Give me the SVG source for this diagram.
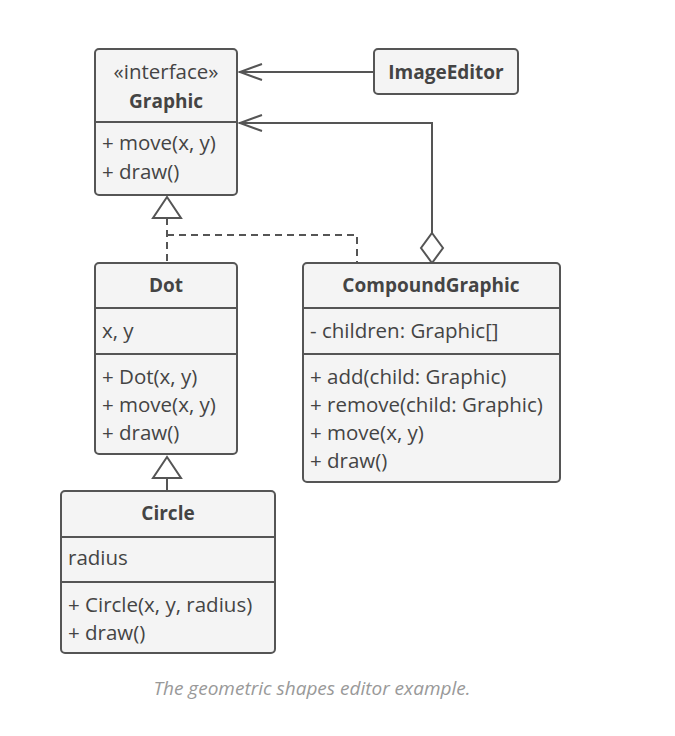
<svg xmlns="http://www.w3.org/2000/svg" width="675" height="736" viewBox="0 0 675 736">
<style>
.box{fill:#f4f4f4;stroke:#555;stroke-width:2}
.div{stroke:#555;stroke-width:2}
.t{font-family:"Open Sans","Noto Sans",sans-serif;font-size:20.5px;fill:#444}
.c{text-anchor:middle}
.b{font-weight:bold;font-size:19px}
.ln{fill:none;stroke:#555;stroke-width:2}
.dash{stroke-dasharray:7,5}
.cap{font-family:"Open Sans","Noto Sans",sans-serif;font-size:19px;font-style:italic;fill:#999;text-anchor:middle}
</style>
<rect width="675" height="736" fill="#fff"/>
<g id="connectors">
<line class="ln" x1="374" y1="72" x2="239" y2="72"/>
<polyline class="ln" points="262,64 240,72 262,80"/>
<polyline class="ln" points="432,233 432,123 239,123"/>
<polyline class="ln" points="262,115 240,123 262,131"/>
<polygon class="ln" points="432,233 443,248 432,263 421,248" style="fill:#fff"/>
<polygon class="ln" style="fill:#fff" points="167,197 181,218 153,218"/>
<line class="ln dash" x1="167" y1="218" x2="167" y2="263"/>
<polyline class="ln dash" points="167,235 357,235 357,263"/>
<polygon class="ln" style="fill:#fff" points="167,457 181,478 153,478"/>
<line class="ln" x1="167" y1="478" x2="167" y2="491"/>
</g>
<g id="Graphic">
<rect class="box" x="95" y="49" width="142" height="146" rx="4"/>
<line class="div" x1="95" y1="122" x2="237" y2="122"/>
<text class="t c" x="166" y="79">«interface»</text>
<text class="t c b" x="166" y="108">Graphic</text>
<text class="t" x="102" y="150">+ move(x, y)</text>
<text class="t" x="102" y="179">+ draw()</text>
</g>
<g id="ImageEditor">
<rect class="box" x="374" y="49" width="144" height="45" rx="4"/>
<text class="t c b" x="446" y="79">ImageEditor</text>
</g>
<g id="Dot">
<rect class="box" x="95" y="263" width="142" height="191" rx="4"/>
<line class="div" x1="95" y1="308" x2="237" y2="308"/>
<line class="div" x1="95" y1="354" x2="237" y2="354"/>
<text class="t c b" x="166" y="292">Dot</text>
<text class="t" x="102" y="338">x, y</text>
<text class="t" x="102" y="384">+ Dot(x, y)</text>
<text class="t" x="102" y="412">+ move(x, y)</text>
<text class="t" x="102" y="440">+ draw()</text>
</g>
<g id="CompoundGraphic">
<rect class="box" x="303" y="263" width="257" height="219" rx="4"/>
<line class="div" x1="303" y1="308" x2="560" y2="308"/>
<line class="div" x1="303" y1="354" x2="560" y2="354"/>
<text class="t c b" x="431" y="292">CompoundGraphic</text>
<text class="t" x="310" y="338">- children: Graphic[]</text>
<text class="t" x="310" y="384">+ add(child: Graphic)</text>
<text class="t" x="310" y="412">+ remove(child: Graphic)</text>
<text class="t" x="310" y="440">+ move(x, y)</text>
<text class="t" x="310" y="468">+ draw()</text>
</g>
<g id="Circle">
<rect class="box" x="61" y="491" width="214" height="162" rx="4"/>
<line class="div" x1="61" y1="537" x2="275" y2="537"/>
<line class="div" x1="61" y1="582" x2="275" y2="582"/>
<text class="t c b" x="168" y="520">Circle</text>
<text class="t" x="68" y="565">radius</text>
<text class="t" x="68" y="612">+ Circle(x, y, radius)</text>
<text class="t" x="68" y="640">+ draw()</text>
</g>
<text class="cap" x="312" y="695">The geometric shapes editor example.</text>
</svg>
